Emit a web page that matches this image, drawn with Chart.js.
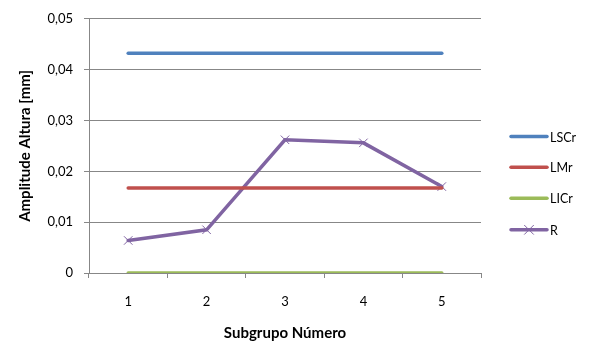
<!DOCTYPE html>
<html>
<head>
<meta charset="utf-8">
<script src="https://cdn.jsdelivr.net/npm/chart.js@4/dist/chart.umd.min.js"></script>
<style>
  html, body { margin: 0; padding: 0; background: #fff; }
  #wrap { width: 592px; height: 342px; }
</style>
</head>
<body>
<div id="wrap"><canvas id="c" width="592" height="342"></canvas></div>
<script>
// Subgroup numbers and control-chart series (range chart)
const categories = ['1', '2', '3', '4', '5'];
const lscr = [0.0432, 0.0432, 0.0432, 0.0432, 0.0432];
const lmr  = [0.0167, 0.0167, 0.0167, 0.0167, 0.0167];
const licr = [0, 0, 0, 0, 0];
const rVals = [0.0064, 0.0085, 0.0262, 0.0256, 0.0170];
const yTicks = [0, 0.01, 0.02, 0.03, 0.04, 0.05];

const FONT = 'Lato, "Open Sans", sans-serif';
const colors = { lscr: '#4F81BD', lmr: '#C0504D', licr: '#9BBB59', r: '#8064A2' };

// Legend drawn to the right of the plot area as line samples
const sideLegend = {
  id: 'sideLegend',
  afterDraw(chart) {
    const ctx = chart.ctx;
    const items = chart.data.datasets;
    const x0 = 511, x1 = 547, tx = 550;
    const ys = [136.5, 167.3, 198.3, 229.8];
    ctx.save();
    items.forEach((ds, i) => {
      const y = ys[i];
      ctx.strokeStyle = ds.borderColor;
      ctx.lineWidth = 3.5;
      ctx.lineCap = 'round';
      ctx.beginPath(); ctx.moveTo(x0, y); ctx.lineTo(x1, y); ctx.stroke();
      if (ds.pointStyle === 'crossRot') {
        const cx = (x0 + x1) / 2, s = 4.5;
        ctx.lineWidth = 1;
        ctx.beginPath();
        ctx.moveTo(cx - s, y - s); ctx.lineTo(cx + s, y + s);
        ctx.moveTo(cx + s, y - s); ctx.lineTo(cx - s, y + s);
        ctx.stroke();
      }
      ctx.fillStyle = '#000';
      ctx.font = '12.5px ' + FONT;
      ctx.textBaseline = 'middle';
      ctx.textAlign = 'left';
      ctx.fillText(ds.label, tx, y + 1);
    });
    ctx.restore();
  }
};

const lineDs = (label, data, color) => ({
  label, data, borderColor: color, backgroundColor: color,
  borderWidth: 3.5, pointRadius: 0, pointHoverRadius: 0, tension: 0,
  borderCapStyle: 'round', fill: false
});

new Chart(document.getElementById('c'), {
  type: 'line',
  data: {
    labels: categories,
    datasets: [
      lineDs('LSCr', lscr, colors.lscr),
      lineDs('LMr', lmr, colors.lmr),
      lineDs('LICr', licr, colors.licr),
      Object.assign(lineDs('R', rVals, colors.r), {
        pointStyle: 'crossRot', pointRadius: 6, pointBorderWidth: 1,
        pointBorderColor: colors.r
      })
    ]
  },
  options: {
    responsive: false,
    animation: false,
    devicePixelRatio: 1,
    layout: { padding: { top: 16, right: 111, left: 0, bottom: 0 } },
    plugins: { legend: { display: false }, tooltip: { enabled: false } },
    scales: {
      x: {
        type: 'category',
        offset: true,
        grid: {
          offset: true, drawOnChartArea: false, drawTicks: true,
          tickLength: 5, color: '#878787', lineWidth: 1
        },
        border: { color: '#878787', width: 1 },
        ticks: { color: '#000', font: { family: FONT, size: 13 }, padding: 16, maxRotation: 0 },
        title: {
          display: true, text: 'Subgrupo Número', color: '#000',
          font: { family: FONT, size: 15, weight: 'bold' },
          padding: { top: 0, bottom: 0 }
        },
        afterFit(scale) { scale.height = 69; }
      },
      y: {
        min: 0, max: 0.05,
        afterBuildTicks(scale) { scale.ticks = yTicks.map(v => ({ value: v })); },
        grid: { color: '#878787', lineWidth: 1, drawTicks: true, tickLength: 5 },
        border: { color: '#878787', width: 1 },
        ticks: {
          color: '#000', font: { family: FONT, size: 13 }, padding: 11,
          callback: v => v === 0 ? '0' : v.toFixed(2).replace('.', ',')
        },
        title: {
          display: true, text: 'Amplitude Altura [mm]', color: '#000',
          font: { family: FONT, size: 15, weight: 'bold' },
          padding: { top: 16, bottom: 0 }
        },
        afterFit(scale) { scale.width = 89; }
      }
    }
  },
  plugins: [sideLegend]
});
</script>
</body>
</html>
